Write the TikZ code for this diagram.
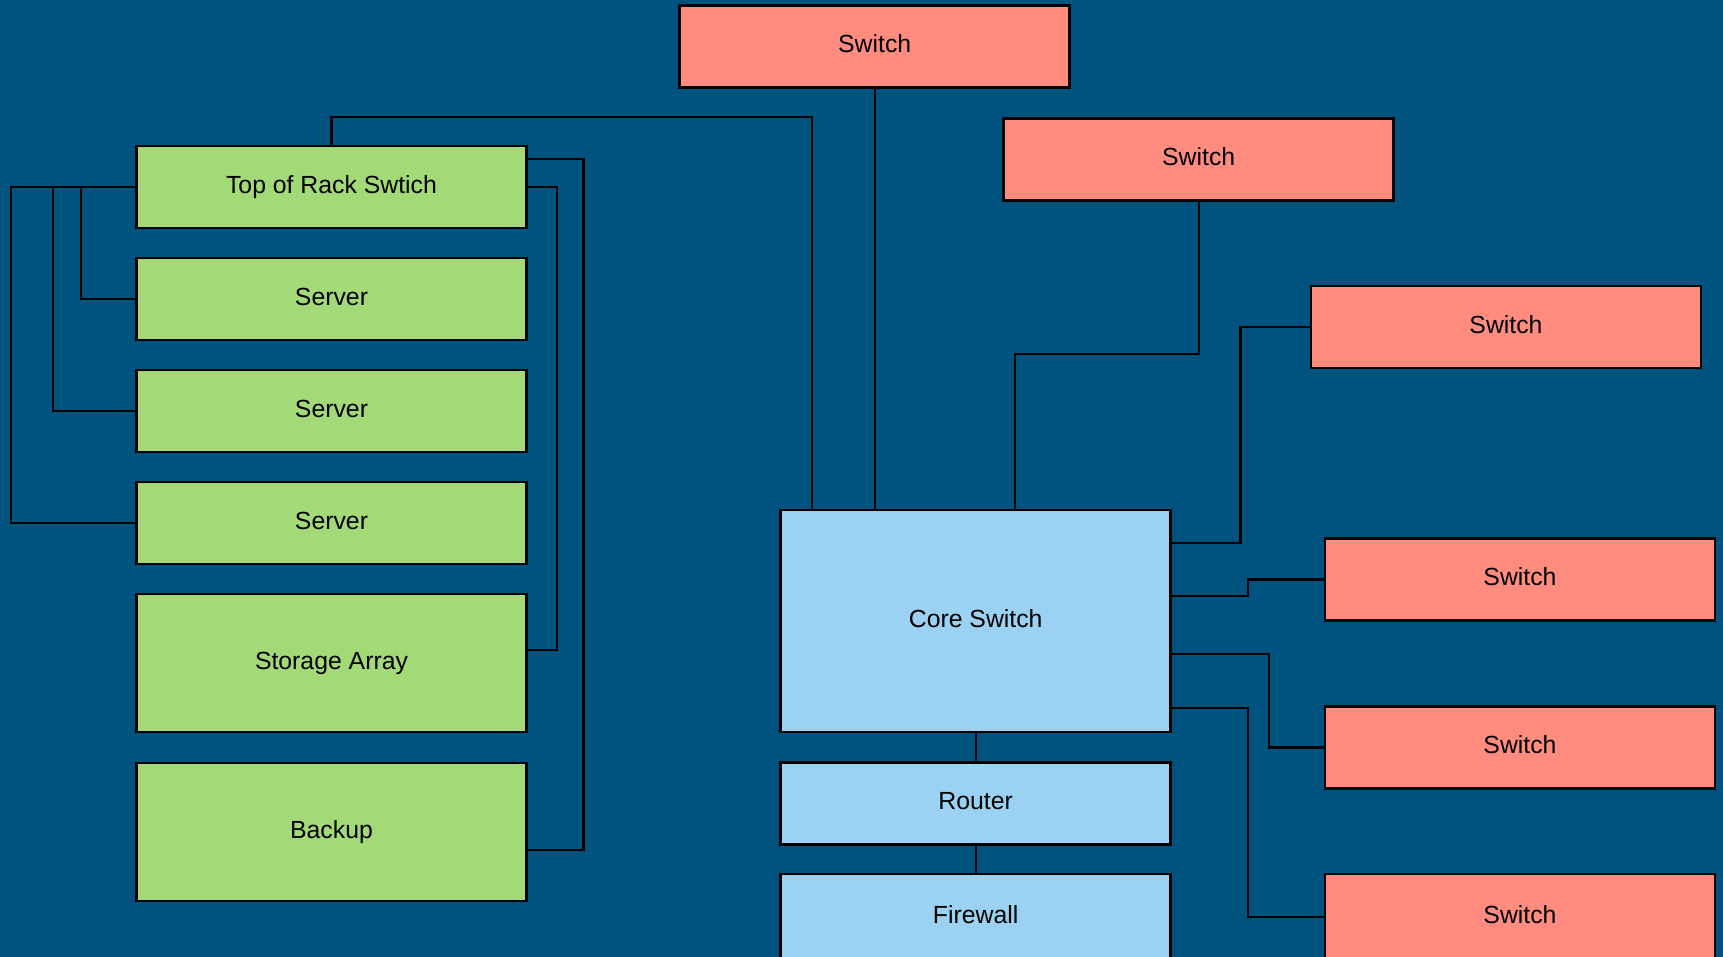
\documentclass[tikz,border=0pt]{standalone}
\usepackage{fontspec}
\setmainfont{Liberation Sans}
\definecolor{bgblue}{RGB}{0,82,127}
\definecolor{salmon}{RGB}{255,140,127}
\definecolor{leaf}{RGB}{163,217,119}
\definecolor{sky}{RGB}{155,209,242}
\tikzset{
  box/.style={draw=black, line width=2.6pt, minimum width=390pt, minimum height=82pt,
    inner sep=0pt, text height=18pt, text depth=5.5pt,
    font=\fontsize{24.8}{30}\selectfont, text=black},
  swbox/.style={box, fill=salmon},
  grbox/.style={box, fill=leaf},
  blbox/.style={box, fill=sky},
  wire/.style={draw=black, line width=2.4pt},
}
\begin{document}
\begin{tikzpicture}[x=1pt, y=-1pt]
\useasboundingbox (0,0) rectangle (1723,957);
\fill[bgblue] (0,0) rectangle (1723,957);

% red switches
\node[swbox] (sw1) at (874.7,46.5) {Switch};
\node[swbox] (sw2) at (1198.7,159.5) {Switch};
\node[swbox] (sw3) at (1506,327) {Switch};
\node[swbox] (sw4) at (1520,579.5) {Switch};
\node[swbox] (sw5) at (1520,747.5) {Switch};
\node[swbox, minimum height=86pt] (sw6) at (1520,917) {Switch};

% green rack
\node[grbox] (tor) at (331.5,187) {Top of Rack Swtich};
\node[grbox] (srv1) at (331.5,299) {Server};
\node[grbox] (srv2) at (331.5,411) {Server};
\node[grbox] (srv3) at (331.5,523) {Server};
\node[grbox, minimum height=138pt] (stor) at (331.5,663) {Storage Array};
\node[grbox, minimum height=138pt] (bkp) at (331.5,832) {Backup};

% blue core
\node[blbox, minimum height=222pt] (core) at (975.7,621) {Core Switch};
\node[blbox] (router) at (975.7,803.5) {Router};
\node[blbox, minimum height=86pt] (fw) at (975.7,917) {Firewall};

% junction coordinates
\coordinate (j1) at (812,117);
\coordinate (j2) at (1015,354);
\coordinate (j3) at (1240.6,543);
\coordinate (j4a) at (1247.8,596);
\coordinate (j4b) at (1247.8,579.5);
\coordinate (j5) at (1269,653.7);
\coordinate (j6) at (1248,708);
\coordinate (l1) at (11,523);
\coordinate (l2) at (53,411);
\coordinate (l3) at (81,299);
\coordinate (r1) at (557,650);
\coordinate (r2) at (583.5,850);
\coordinate (t2) at (526.5,159);

% connectors to core
\draw[wire] (sw1.south) -- (sw1.south |- core.north);
\draw[wire] (tor.north) |- (j1) -- (j1 |- core.north);
\draw[wire] (sw2.south) |- (j2) -- (j2 |- core.north);
\draw[wire] (sw3.west) -| (j3) -- (j3 -| core.east);
\draw[wire] (j4a -| core.east) -- (j4a) -- (j4b) -- (sw4.west);
\draw[wire] (j5 -| core.east) -| (sw5.west -| j5) -- (sw5.west);
\draw[wire] (j6 -| core.east) -| (sw6.west -| j6) -- (sw6.west);
\draw[wire] (core.south) -- (router.north);
\draw[wire] (router.south) -- (fw.north);

% rack connectors
\draw[wire] (tor.west) -| (l1) -- (l1 -| srv3.west);
\draw[wire] (l2 |- tor.west) -- (l2) -- (l2 -| srv2.west);
\draw[wire] (l3 |- tor.west) -- (l3) -- (l3 -| srv1.west);
\draw[wire] (tor.east) -| (r1) -- (r1 -| stor.east);
\draw[wire] (t2 -| tor.east) -| (r2) -- (r2 -| bkp.east);
\end{tikzpicture}
\end{document}
